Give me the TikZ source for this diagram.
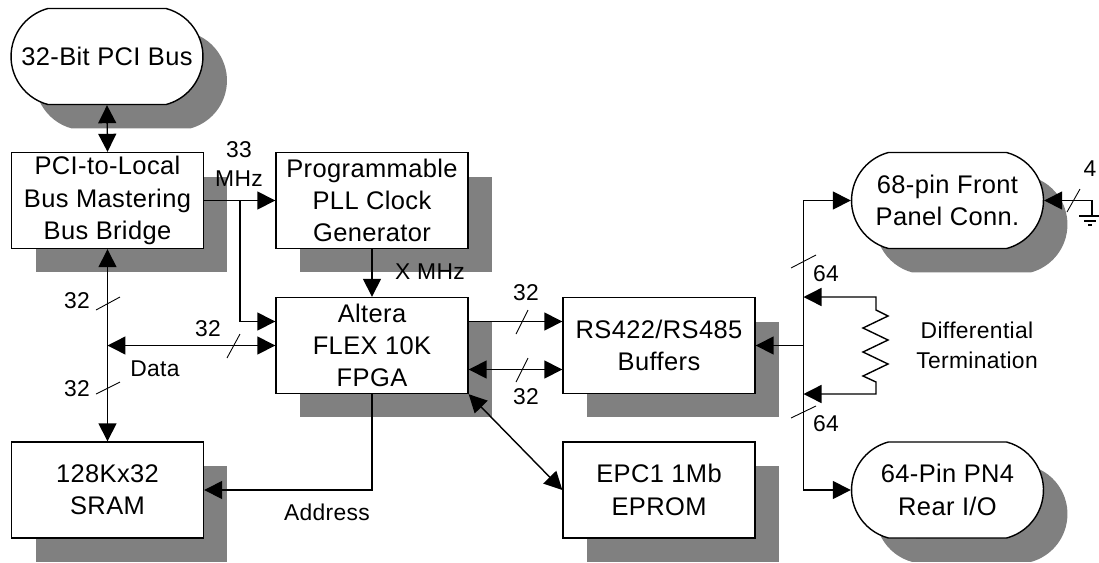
\documentclass[tikz,border=0pt]{standalone}
\usepackage{fontspec}
\setmainfont{Liberation Sans}[LetterSpace=1.5]
\usetikzlibrary{arrows.meta, shapes.misc, shadows}

\tikzset{
    blockshadow/.style={drop shadow={shadow xshift=0.48cm, shadow yshift=-0.48cm, fill=black!50, opacity=1}},
    blockbox/.style={draw=black, fill=white, line width=0.8pt, minimum width=3.84cm, minimum height=1.92cm,
        inner sep=0pt, align=center, font=\fontsize{14.5}{18.4}\selectfont, blockshadow},
    busbox/.style={blockbox, rounded rectangle, rounded rectangle arc length=150},
    wire/.style={black, line width=0.8pt, >={Triangle[length=0.36cm, width=0.36cm]}},
    tick/.style={black, line width=0.5pt},
    lbl/.style={inner sep=0pt, align=center, font=\fontsize{13}{17}\selectfont}
}

\begin{document}
\begin{tikzpicture}[x=0.02cm, y=-0.02cm]
    \useasboundingbox (0, 0) rectangle (1099, 562);

    % Blocks
    \node[busbox] (pcibus) at (107, 56.5) {32-Bit PCI Bus};
    \node[blockbox] (bridge) at (107.5, 200.5) {PCI-to-Local\\Bus Mastering\\Bus Bridge};
    \node[blockbox] (pll) at (372, 200.5) {Programmable\\PLL Clock\\Generator};
    \node[blockbox] (fpga) at (372, 345.5) {Altera\\FLEX 10K\\FPGA};
    \node[blockbox] (buffers) at (659, 345.5) {RS422/RS485\\Buffers};
    \node[blockbox] (eprom) at (659, 490) {EPC1 1Mb\\EPROM};
    \node[blockbox] (sram) at (107.5, 490) {128Kx32\\SRAM};
    \node[busbox] (frontconn) at (947.5, 200.5) {68-pin Front\\Panel Conn.};
    \node[busbox] (rearconn) at (947.5, 490) {64-Pin PN4\\Rear I/O};

    % Junctions
    \coordinate (datajoin) at (107.5, 345.5);
    \coordinate (clockjoin) at (240, 200.5);
    \coordinate (split) at (803.5, 345.5);
    \coordinate (termtop) at (803.5, 297);
    \coordinate (termbot) at (803.5, 394);
    \coordinate (gnd) at (1092, 216);

    % Left side
    \draw[wire, <->] (pcibus.south) -- (bridge.north);
    \draw[wire, <->] (bridge.south) -- (sram.north);
    \draw[wire, <->] (datajoin) -- (fpga.west);
    \draw[wire, ->] (bridge.east) -- (pll.west);
    \draw[wire, ->] (clockjoin) |- ([yshift=0.48cm]fpga.west);
    \draw[wire, ->] (pll.south) -- (fpga.north);
    \draw[wire, ->] (fpga.south) |- (sram.east);

    % FPGA to the right
    \draw[wire, ->] ([yshift=0.48cm]fpga.east) -- ([yshift=0.48cm]buffers.west);
    \draw[wire, <->] ([yshift=-0.48cm]fpga.east) -- ([yshift=-0.48cm]buffers.west);
    \draw[wire, <->] (fpga.south east) -- (eprom.west);

    % Trunk to the connectors
    \draw[wire, ->] (split) -- (buffers.east);
    \draw[wire, ->] (split) |- (frontconn.west);
    \draw[wire, ->] (split) |- (rearconn.west);

    % Termination resistor
    \draw[wire, <->] (termtop) -- (876, 297) -- (876, 310) -- (888, 316) -- (863, 328) -- (888, 340)
        -- (863, 352) -- (888, 364) -- (863, 376) -- (876, 382) -- (876, 394) -- (termbot);

    % Ground
    \draw[wire, ->] (gnd) |- (frontconn.east);
    \draw[wire] (1079, 216) -- (1099, 216);
    \draw[wire] (1084, 221) -- (1096, 221);
    \draw[wire] (1088, 225) -- (1092, 225);

    % Bus width ticks
    \draw[tick] (96, 310) -- (120, 297);
    \draw[tick] (96, 394) -- (120, 382);
    \draw[tick] (227, 358) -- (240, 334);
    \draw[tick] (516, 334) -- (528, 310);
    \draw[tick] (516, 382) -- (528, 358);
    \draw[tick] (791, 268) -- (816, 255);
    \draw[tick] (791, 418) -- (816, 406);
    \draw[tick] (1067, 212) -- (1080, 189);

    % Labels
    \node[lbl] (mhzclock) at (239, 164) {33\\MHz};
    \node[lbl] (xmhz) at (430, 272) {X MHz};
    \node[lbl] (widthup) at (77, 301) {32};
    \node[lbl] (widthdown) at (77, 389) {32};
    \node[lbl] (widthdata) at (208, 329) {32};
    \node[lbl] (datalbl) at (155, 369) {Data};
    \node[lbl] (addrlbl) at (327, 512) {Address};
    \node[lbl] (widthout) at (526, 293) {32};
    \node[lbl] (widthin) at (526, 397) {32};
    \node[lbl] (widthtop) at (826, 274) {64};
    \node[lbl] (widthbot) at (826, 424) {64};
    \node[lbl] (widthgnd) at (1090, 169) {4};
    \node[lbl] (termlbl) at (977, 345) {Differential\\Termination};
\end{tikzpicture}
\end{document}
